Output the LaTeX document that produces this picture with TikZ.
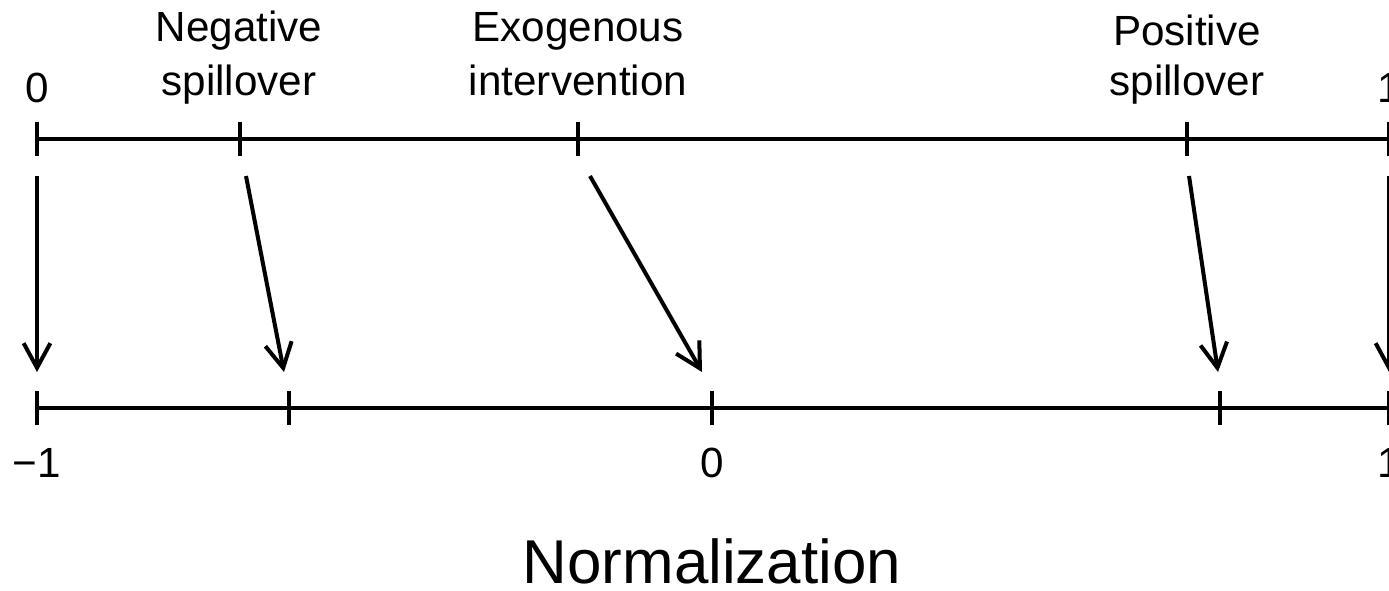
\documentclass[tikz,border=0pt]{standalone}
\usepackage{fontspec}
\setmainfont{Liberation Sans}
\usetikzlibrary{arrows.meta}
\begin{document}
\begin{tikzpicture}[
  x=0.01cm, y=-0.01cm, line width=1.14pt,
  lab/.style={font=\fontsize{12}{15.1}\selectfont, anchor=base, inner sep=0pt},
  head/.style={font=\fontsize{12}{15.1}\selectfont, align=center, anchor=base, inner sep=0pt},
  ->, >={Straight Barb[length=7pt,width=7.6pt]}
]
  \useasboundingbox (0,0) rectangle (1389,590);
  \clip (0,0) rectangle (1389,590);

  % axes
  \coordinate (top0) at (37,139);   \coordinate (top1) at (1389,139);
  \coordinate (bot0) at (37,408);   \coordinate (bot1) at (1389,408);
  \draw[-] (top0) -- (top1);
  \draw[-] (bot0) -- (bot1);
  \foreach \x in {37,240,578,1187,1389} \draw[-] (\x,122) -- (\x,156);
  \foreach \x in {37,289,712,1220,1389} \draw[-] (\x,391) -- (\x,425);

  % labels
  \node[lab] (z) at (37,102) {0};
  \node[lab] (o) at (1389,102) {1};
  \node[head] (neg) at (239,95) {Negative\\spillover};
  \node[head] (exo) at (578,95) {Exogenous\\intervention};
  \node[head, font=\fontsize{12}{14}\selectfont] (pos) at (1187,95) {Positive\\spillover};
  \node[lab] (m1) at (37,477) {−1};
  \node[lab] (b0) at (712,477) {0};
  \node[lab] (b1) at (1389,477) {1};
  \node[lab, font=\fontsize{17.6}{20}\selectfont] (norm) at (712,583) {Normalization};

  % mapping arrows
  \coordinate (zs) at (37,176);    \coordinate (ze) at (37,372);
  \coordinate (ns) at (246,176);   \coordinate (ne) at (284,372);
  \coordinate (es) at (590,176);   \coordinate (ee) at (702,372);
  \coordinate (ps) at (1189,176);  \coordinate (pe) at (1218,372);
  \coordinate (os) at (1389,176);  \coordinate (oe) at (1389,372);
  \draw (zs) -- (ze);
  \draw (ns) -- (ne);
  \draw (es) -- (ee);
  \draw (ps) -- (pe);
  \draw (os) -- (oe);
\end{tikzpicture}
\end{document}
